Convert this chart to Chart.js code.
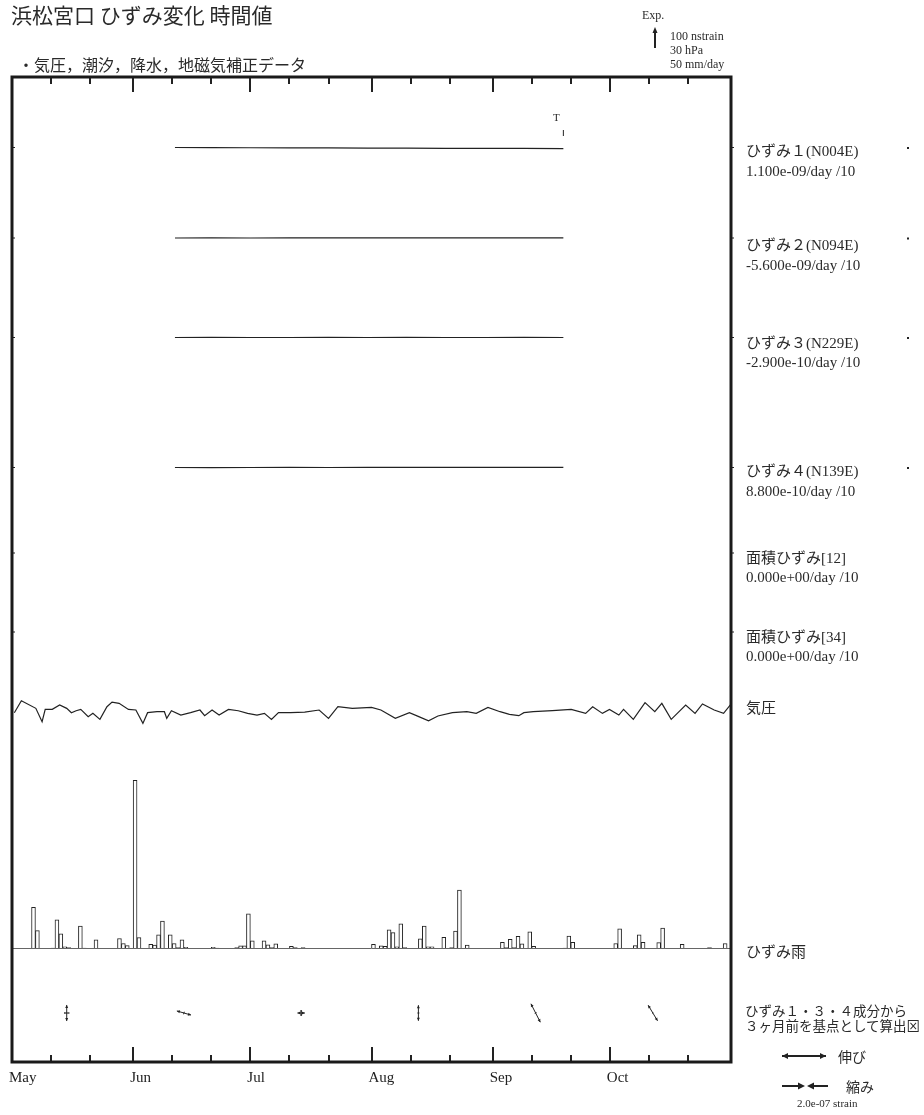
<!DOCTYPE html>
<html><head><meta charset="utf-8">
<script src="https://cdn.jsdelivr.net/npm/chart.js@4.4.0/dist/chart.umd.min.js"></script>
<style>
html,body{margin:0;padding:0;background:#fff;}
#wrap{position:relative;width:924px;height:1115px;overflow:hidden;background:#fff;}
#c{position:absolute;left:0;top:0;}
.t{position:absolute;white-space:nowrap;color:#2a2a2a;line-height:1;}
.serif{font-family:"Liberation Serif","Noto Sans CJK JP",serif;}
.cjk{font-family:"Noto Sans CJK JP","Liberation Serif",sans-serif;}
</style></head>
<body><div id="wrap"><canvas id="c" width="924" height="1115"></canvas></div>
<script>
// ---------------- DATA ----------------
const monthNames = ['May','Jun','Jul','Aug','Sep','Oct'];
const monthStartDays = [0,31,61,92,123,153];   // days since May 1
const rangeEndDay = 184;                         // Nov 1

// strain components (nstrain, relative), sampled days
const strainDays = [41.7,51,61,71,81,91,101,111,121,131,141.1];
const strain1 = [0,-0.4,-1.1,-1.6,-1.9,-2.6,-3.0,-3.7,-4.1,-4.4,-5.0];
const strain2 = [0,0.3,0.1,0.4,0.2,0.5,0.3,0.6,0.4,0.7,0.5];
const strain3 = [0,0.2,-0.1,0.1,0.3,0.0,0.2,0.1,-0.1,0.2,0.1];
const strain4 = [0,-0.2,0.1,0.3,0.0,0.4,0.2,0.5,0.3,0.6,0.4];

// atmospheric pressure (hPa)
const pressureDays = [0.6,2.4,6.1,7.7,8.5,10.3,12.2,14.0,15.2,16.4,17.6,19.5,20.7,22.5,24.3,25.6,27.4,29.8,31.7,33.5,34.7,37.1,39.0,39.6,40.8,43.2,45.7,48.1,49.3,51.2,53.0,55.4,57.9,60.3,62.7,64.6,66.4,68.2,71.3,74.9,78.6,81.0,83.4,87.1,92.0,94.4,98.1,101.7,104.1,106.6,109.0,112.7,116.4,118.8,121.8,124.9,127.3,129.7,131.0,133.4,138.3,143.1,146.8,148.6,151.1,152.9,155.3,156.5,159.0,162.0,164.5,166.3,168.7,172.4,174.8,176.7,179.7,182.1,184];
const pressureHpa = [1010.6,1027.7,1016.8,997.7,1015.3,1015.3,1021.5,1016.8,1010.6,1013.4,1015.3,1004.9,1009.6,1001.0,1019.1,1025.8,1023.9,1015.3,1014.4,995.3,1010.6,1012.0,1012.0,1002.5,1013.4,1007.2,1010.6,1014.4,1006.3,1014.4,1007.2,1015.3,1013.4,1009.6,1007.2,1009.6,1001.0,1010.6,1010.6,1011.5,1014.4,1002.5,1019.1,1016.8,1018.2,1014.4,1002.5,1010.6,1004.9,999.1,1005.8,1010.6,1012.0,1009.6,1018.2,1012.0,1008.2,1006.3,1010.6,1012.0,1013.4,1015.3,1009.6,1019.1,1009.6,1015.3,1007.2,1015.3,1001.0,1024.9,1012.0,1023.9,1001.0,1021.5,1009.6,1023.0,1014.4,1009.6,1023.0];

// daily rainfall (mm/day)
const rainDays = [5,6,10,11,12,13,14,17,18,21,27,28,29,31,32,35,36,37,38,40,41,42,43,44,51,52,57,58,59,60,61,64,65,66,67,71,72,74,92,94,95,96,97,98,99,100,104,105,106,107,110,112,113,114,116,125,126,127,128,129,130,132,133,141,142,143,154,155,159,160,161,165,166,171,178,182];
const rainMm   = [99,43,1,69,35,4,2,54,1,21,24,12,7,403,26,10,8,33,66,33,12,2,21,3,3,1,2,6.5,6.5,83,18.5,18.5,9,2,11,5,2,2.5,10,6.5,5.5,45,38,4,59,2,23,54,4,4,27,2,42,140,8,15,2,22,2,29,11,40,5,1,30,15,12,47,7,33,15,14,49,10,2,12];

// principal strains (strain) computed from components 1,3,4
const arrowDays    = [14,44,74,104,134,164];
const arrowExt     = [7.3e-8,6.7e-8,3.4e-8,7.1e-8,9.4e-8,8.3e-8];
const arrowCon     = [1.4e-8,1.2e-8,2.7e-8,0.9e-8,0.9e-8,0.5e-8];
const arrowAzimuth = [0,106,90,0,153,149];   // deg, clockwise from north

// ---------------- LAYOUT ----------------
const AREA = {left:12, top:77, right:731, bottom:1062};
const BAND = {s1:147.5, s2:238, s3:337.5, s4:467.5, a12:553, a34:632, p:711.7, rain:948.5, arrows:1013};
const K_NSTRAIN = 0.21, K_HPA = 0.7, K_MM = 0.417, K_STRAIN = 2.2e8;

function bandAxis(zeroPx, k, ref){
  return {type:'linear', display:false,
    min: ref - (AREA.bottom - zeroPx)/k,
    max: ref + (zeroPx - AREA.top)/k};
}
const pts = (xs, ys) => xs.map((d,i)=>({x:d, y:ys[i]}));
const lineDs = (data, axis) => ({type:'line', data, yAxisID:axis, borderColor:'#222', borderWidth:1.2, pointRadius:0, tension:0, fill:false});

function head(ctx, x, y, ux, uy, size, w){
  const px = -uy, py = ux;
  ctx.beginPath();
  ctx.moveTo(x, y);
  ctx.lineTo(x - ux*size + px*w, y - uy*size + py*w);
  ctx.lineTo(x - ux*size - px*w, y - uy*size - py*w);
  ctx.closePath(); ctx.fill();
}
function axisArrow(ctx, cx, cy, azDeg, half, outward, hs){
  const a = azDeg*Math.PI/180, ux = Math.sin(a), uy = -Math.cos(a);
  const x1 = cx-ux*half, y1 = cy-uy*half, x2 = cx+ux*half, y2 = cy+uy*half;
  ctx.beginPath(); ctx.moveTo(x1,y1); ctx.lineTo(x2,y2); ctx.stroke();
  if (half < 1.5) return;
  if (outward){ head(ctx,x2,y2,ux,uy,hs,hs*0.5); head(ctx,x1,y1,-ux,-uy,hs,hs*0.5); }
  else { head(ctx,cx+ux*0.6,cy+uy*0.6,-ux,-uy,hs,hs*0.5); head(ctx,cx-ux*0.6,cy-uy*0.6,ux,uy,hs,hs*0.5); }
}

const deco = {
  id:'deco',
  afterDatasetsDraw(chart){
    const {ctx, chartArea:a, scales} = chart;
    const xs = scales.x;
    ctx.save();
    ctx.strokeStyle = '#222'; ctx.fillStyle = '#222';
    // rain baseline
    const yr = scales.yRain.getPixelForValue(0);
    ctx.strokeStyle = '#666'; ctx.lineWidth = 1;
    ctx.beginPath(); ctx.moveTo(a.left, yr); ctx.lineTo(a.right, yr); ctx.stroke();
    ctx.strokeStyle = '#222';
    // month / decade ticks
    ctx.lineWidth = 2;
    monthStartDays.forEach(m => {
      [0,10,20].forEach(off => {
        const d = m + off; if (d <= 0 || d >= rangeEndDay) return;
        const px = Math.round(xs.getPixelForValue(d));
        const len = off === 0 ? 15 : 7;
        ctx.beginPath(); ctx.moveTo(px, a.top); ctx.lineTo(px, a.top+len);
        ctx.moveTo(px, a.bottom); ctx.lineTo(px, a.bottom-len); ctx.stroke();
      });
    });
    // side ticks at trace baselines
    ctx.lineWidth = 1;
    [BAND.s1,BAND.s2,BAND.s3,BAND.s4,BAND.a12,BAND.a34].forEach(y => {
      ctx.beginPath(); ctx.moveTo(a.left, y); ctx.lineTo(a.left+3, y);
      ctx.moveTo(a.right, y); ctx.lineTo(a.right+3, y); ctx.stroke();
    });
    // end-of-data tick
    const xe = xs.getPixelForValue(strainDays[strainDays.length-1]);
    ctx.beginPath(); ctx.moveTo(xe, 130); ctx.lineTo(xe, 136); ctx.stroke();
    // dots at right
    [BAND.s1,BAND.s2,BAND.s3,BAND.s4].forEach(y => ctx.fillRect(907, y-0.5, 2, 2));
    // frame
    ctx.lineWidth = 3; ctx.strokeStyle = '#1a1a1a';
    ctx.strokeRect(a.left, a.top, a.right-a.left, a.bottom-a.top);
    // principal strain arrows
    ctx.strokeStyle = '#222'; ctx.lineWidth = 1;
    arrowDays.forEach((d,i) => {
      const cx = xs.getPixelForValue(d), cy = BAND.arrows;
      axisArrow(ctx, cx, cy, arrowAzimuth[i], arrowExt[i]*K_STRAIN/2, true, 3);
      axisArrow(ctx, cx, cy, arrowAzimuth[i]+90, arrowCon[i]*K_STRAIN/2, false, 2);
    });
    // legend arrows
    ctx.lineWidth = 2;
    const L = 2.0e-7*K_STRAIN;
    axisArrow(ctx, 782+L/2, 1056, 90, L/2, true, 6);
    ctx.beginPath(); ctx.moveTo(782,1086); ctx.lineTo(800,1086); ctx.moveTo(812,1086); ctx.lineTo(782+L+2,1086); ctx.stroke();
    head(ctx, 805, 1086, 1, 0, 7, 3.5);
    head(ctx, 807, 1086, -1, 0, 7, 3.5);
    // Exp arrow
    ctx.beginPath(); ctx.moveTo(655, 48); ctx.lineTo(655, 31); ctx.stroke();
    head(ctx, 655, 27, 0, -1, 6, 2.5);
    ctx.restore();
  }
};

const yAxes = {
  yS1: bandAxis(BAND.s1, K_NSTRAIN, 0),
  yS2: bandAxis(BAND.s2, K_NSTRAIN, 0),
  yS3: bandAxis(BAND.s3, K_NSTRAIN, 0),
  yS4: bandAxis(BAND.s4, K_NSTRAIN, 0),
  yP:  bandAxis(BAND.p, K_HPA, 1012),
  yRain: bandAxis(BAND.rain, K_MM, 0)
};

new Chart(document.getElementById('c'), {
  type:'line',
  data:{ datasets:[
    lineDs(pts(strainDays, strain1), 'yS1'),
    lineDs(pts(strainDays, strain2), 'yS2'),
    lineDs(pts(strainDays, strain3), 'yS3'),
    lineDs(pts(strainDays, strain4), 'yS4'),
    lineDs(pts(pressureDays, pressureHpa), 'yP'),
    {type:'bar', data: pts(rainDays.map(d=>d+0.5), rainMm), yAxisID:'yRain',
     backgroundColor:'#fff', borderColor:'#222', borderWidth:1,
     barPercentage:1, categoryPercentage:1}
  ]},
  options:{
    responsive:false, animation:false, devicePixelRatio:1,
    layout:{padding:{left:AREA.left, top:AREA.top, right:924-AREA.right, bottom:1115-AREA.bottom-24}},
    plugins:{legend:{display:false}, tooltip:{enabled:false}},
    scales:Object.assign({
      x:{type:'linear', min:0, max:rangeEndDay, offset:false, position:'bottom',
        grid:{display:false, drawTicks:false}, border:{display:false},
        afterBuildTicks: ax => { ax.ticks = monthStartDays.map(v=>({value:v})); },
        afterFit: ax => { ax.height = 24; },
        ticks:{autoSkip:false, maxRotation:0, minRotation:0, align:'start', labelOffset:-3, padding:7,
          color:'#222', font:{family:'Liberation Serif', size:15},
          callback:(v,i)=> monthNames[i]}
      }
    }, yAxes)
  },
  plugins:[deco]
});

// ---------------- TEXT ----------------
const LABELS = [
  ['浜松宮口 ひずみ変化 時間値', 11, 14, 21, 'cjk'],
  ['・気圧，潮汐，降水，地磁気補正データ', 18, 64, 16, 'cjk'],
  ['Exp.', 642, 15, 12, 'serif'],
  ['100 nstrain', 670, 36, 12, 'serif'],
  ['30 hPa', 670, 50, 12, 'serif'],
  ['50 mm/day', 670, 64, 12, 'serif'],
  ['T', 553, 117, 11, 'serif'],
  ['ひずみ１(N004E)', 746, 151.7, 15, 'serif'],
  ['1.100e-09/day /10', 746, 171.7, 15, 'serif'],
  ['ひずみ２(N094E)', 746, 245, 15, 'serif'],
  ['-5.600e-09/day /10', 746, 265, 15, 'serif'],
  ['ひずみ３(N229E)', 746, 343, 15, 'serif'],
  ['-2.900e-10/day /10', 746, 362.7, 15, 'serif'],
  ['ひずみ４(N139E)', 746, 471.7, 15, 'serif'],
  ['8.800e-10/day /10', 746, 491.7, 15, 'serif'],
  ['面積ひずみ[12]', 746, 558, 15, 'serif'],
  ['0.000e+00/day /10', 746, 577, 15, 'serif'],
  ['面積ひずみ[34]', 746, 637, 15, 'serif'],
  ['0.000e+00/day /10', 746, 656, 15, 'serif'],
  ['気圧', 746, 708, 15, 'serif'],
  ['ひずみ雨', 746, 952, 15, 'serif'],
  ['ひずみ１・３・４成分から', 745, 1010.7, 13.5, 'cjk'],
  ['３ヶ月前を基点として算出⊠', 745, 1026, 13.5, 'cjk'],
  ['伸び', 838, 1056, 14, 'cjk'],
  ['縮み', 846, 1086, 14, 'cjk'],
  ['2.0e-07 strain', 797, 1103, 11, 'serif']
];
const wrap = document.getElementById('wrap');
LABELS.forEach(([txt, x, yc, size, fam]) => {
  const el = document.createElement('div');
  el.className = 't ' + fam;
  el.textContent = txt;
  el.style.left = x + 'px';
  el.style.top = (yc - size/2) + 'px';
  el.style.fontSize = size + 'px';
  el.style.height = size + 'px';
  wrap.appendChild(el);
});
</script>
</body></html>
